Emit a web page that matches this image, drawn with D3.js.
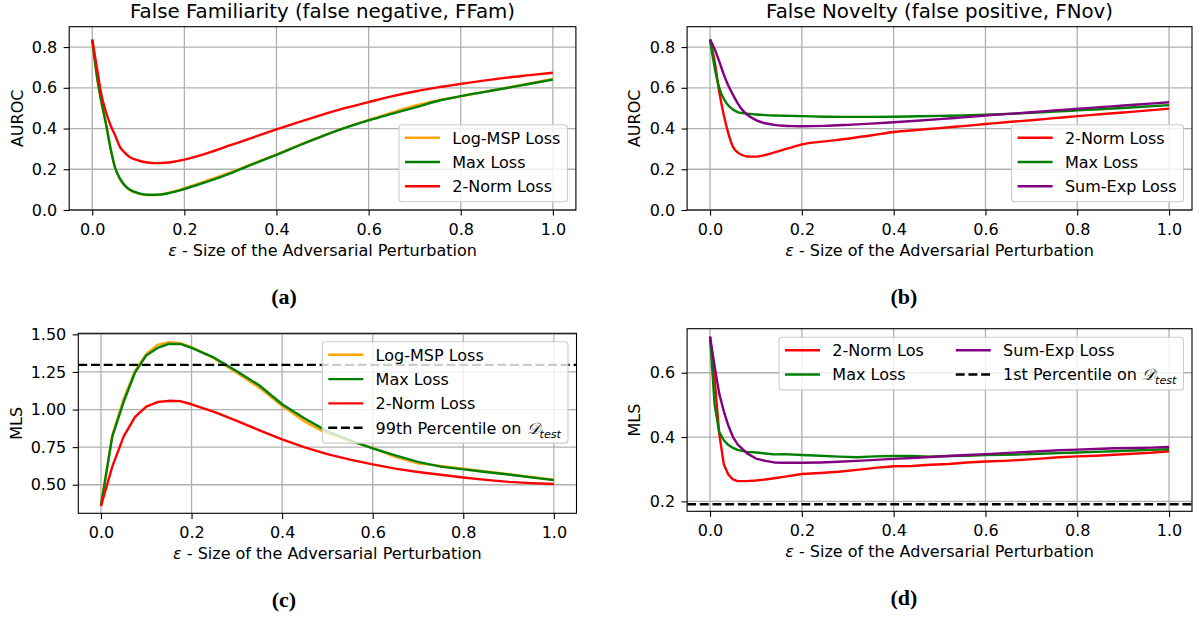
<!DOCTYPE html>
<html>
<head>
<meta charset="utf-8">
<script src="https://cdn.jsdelivr.net/npm/d3@7"></script>
<style>
body { margin: 0; background: #fff; }
svg { display: block; font-family: "DejaVu Sans", sans-serif; }
</style>
</head>
<body>
<div id="chart"></div>
<script>
// epsilon grids
const epsAB = [0, 0.01, 0.02, 0.03, 0.04, 0.05, 0.06, 0.07, 0.08, 0.1, 0.12, 0.14, 0.16, 0.18, 0.2, 0.25, 0.3, 0.35, 0.4, 0.45, 0.5, 0.55, 0.6, 0.65, 0.7, 0.75, 0.8, 0.85, 0.9, 0.95, 1.0];
const epsC = [0, 0.025, 0.05, 0.075, 0.1, 0.125, 0.15, 0.175, 0.2, 0.25, 0.3, 0.35, 0.4, 0.45, 0.5, 0.55, 0.6, 0.65, 0.7, 0.75, 0.8, 0.85, 0.9, 0.95, 1.0];
const epsD = [0, 0.01, 0.02, 0.03, 0.04, 0.05, 0.06, 0.08, 0.1, 0.12, 0.14, 0.16, 0.2, 0.24, 0.28, 0.32, 0.36, 0.4, 0.44, 0.48, 0.52, 0.56, 0.6, 0.64, 0.68, 0.72, 0.76, 0.8, 0.84, 0.88, 0.92, 0.96, 1.0];

// (a) False Familiarity, AUROC
const aLogMsp = [0.837, 0.66, 0.53, 0.42, 0.30, 0.205, 0.152, 0.12, 0.10, 0.081, 0.073, 0.074, 0.081, 0.093, 0.107, 0.145, 0.185, 0.229, 0.273, 0.320, 0.364, 0.405, 0.442, 0.478, 0.512, 0.538, 0.558, 0.580, 0.600, 0.621, 0.643];
const aMax    = [0.837, 0.66, 0.53, 0.42, 0.30, 0.205, 0.155, 0.122, 0.102, 0.083, 0.075, 0.075, 0.080, 0.090, 0.103, 0.139, 0.180, 0.226, 0.271, 0.318, 0.363, 0.404, 0.440, 0.472, 0.503, 0.535, 0.559, 0.579, 0.599, 0.620, 0.640];
const aNorm   = [0.837, 0.70, 0.565, 0.48, 0.415, 0.365, 0.31, 0.283, 0.262, 0.243, 0.233, 0.230, 0.232, 0.238, 0.247, 0.279, 0.318, 0.357, 0.396, 0.433, 0.468, 0.501, 0.530, 0.558, 0.582, 0.602, 0.619, 0.635, 0.650, 0.662, 0.674];

// (b) False Novelty, AUROC
const bNorm   = [0.837, 0.73, 0.58, 0.465, 0.375, 0.31, 0.283, 0.270, 0.263, 0.262, 0.270, 0.283, 0.296, 0.309, 0.322, 0.337, 0.350, 0.366, 0.383, 0.393, 0.402, 0.412, 0.422, 0.432, 0.441, 0.451, 0.461, 0.470, 0.479, 0.488, 0.498];
const bMax    = [0.837, 0.70, 0.60, 0.545, 0.513, 0.493, 0.481, 0.476, 0.473, 0.469, 0.466, 0.464, 0.463, 0.462, 0.461, 0.458, 0.457, 0.457, 0.458, 0.460, 0.462, 0.464, 0.468, 0.472, 0.477, 0.483, 0.489, 0.495, 0.501, 0.508, 0.515];
const bSumExp = [0.837, 0.79, 0.73, 0.665, 0.61, 0.565, 0.525, 0.492, 0.470, 0.441, 0.426, 0.418, 0.414, 0.412, 0.411, 0.413, 0.418, 0.424, 0.431, 0.438, 0.446, 0.455, 0.464, 0.472, 0.480, 0.489, 0.497, 0.505, 0.513, 0.521, 0.529];

// (c) MLS under false-familiarity attack
const cLogMsp = [0.36, 0.83, 1.07, 1.255, 1.37, 1.43, 1.448, 1.442, 1.415, 1.34, 1.245, 1.145, 1.025, 0.92, 0.84, 0.79, 0.745, 0.685, 0.642, 0.625, 0.607, 0.588, 0.57, 0.551, 0.533];
const cMax    = [0.36, 0.82, 1.05, 1.245, 1.36, 1.41, 1.436, 1.436, 1.41, 1.345, 1.255, 1.16, 1.035, 0.94, 0.855, 0.795, 0.742, 0.695, 0.652, 0.620, 0.602, 0.585, 0.568, 0.549, 0.531];
const cNorm   = [0.358, 0.62, 0.82, 0.95, 1.02, 1.05, 1.058, 1.056, 1.035, 0.985, 0.925, 0.862, 0.801, 0.748, 0.703, 0.667, 0.635, 0.607, 0.585, 0.566, 0.548, 0.532, 0.519, 0.511, 0.505];
const cPercentile = 1.297;

// (d) MLS under false-novelty attack
const dNorm   = [0.712, 0.58, 0.41, 0.315, 0.283, 0.268, 0.263, 0.263, 0.265, 0.268, 0.272, 0.276, 0.285, 0.288, 0.292, 0.298, 0.304, 0.309, 0.310, 0.314, 0.316, 0.321, 0.324, 0.326, 0.329, 0.333, 0.337, 0.340, 0.342, 0.345, 0.348, 0.351, 0.356];
const dMax    = [0.712, 0.50, 0.415, 0.39, 0.375, 0.366, 0.36, 0.354, 0.352, 0.349, 0.346, 0.347, 0.344, 0.342, 0.339, 0.337, 0.340, 0.341, 0.341, 0.339, 0.341, 0.342, 0.344, 0.345, 0.346, 0.348, 0.350, 0.352, 0.354, 0.356, 0.358, 0.360, 0.362];
const dSumExp = [0.712, 0.62, 0.535, 0.48, 0.435, 0.40, 0.377, 0.350, 0.333, 0.326, 0.321, 0.320, 0.320, 0.321, 0.323, 0.326, 0.329, 0.332, 0.335, 0.338, 0.341, 0.344, 0.347, 0.350, 0.353, 0.356, 0.359, 0.361, 0.363, 0.365, 0.366, 0.367, 0.369];
const dPercentile = 0.191;

// ticks
const xTicks = [0, 0.2, 0.4, 0.6, 0.8, 1.0];
const abTicksY = [0, 0.2, 0.4, 0.6, 0.8];
const cTicksY = [0.5, 0.75, 1.0, 1.25, 1.5];
const dTicksY = [0.2, 0.4, 0.6];

const C = { orange: "#ffa500", green: "#008000", red: "#ff0000", purple: "#800080" };
const FS = 16, LW = 2.4;

const svg = d3.select("#chart").append("svg")
    .attr("width", 1202)
    .attr("height", 619);

const panels = [
    { id: "a", left: 69.2, right: 575.9, top: 26.7, bottom: 210, yDomain: [0, 0.9], yTicks: abTicksY, fmt: ".1f",
      title: "False Familiarity (false negative, FFam)", ylabel: "AUROC", ylabelX: 23, caption: "(a)", capX: 284,
      xs: epsAB, curve: d3.curveMonotoneX, legend: { corner: "lower", cols: 1 },
      series: [{ label: "Log-MSP Loss", values: aLogMsp, color: C.orange },
               { label: "Max Loss", values: aMax, color: C.green },
               { label: "2-Norm Loss", values: aNorm, color: C.red }] },
    { id: "b", left: 687.1, right: 1192, top: 26.7, bottom: 210, yDomain: [0, 0.9], yTicks: abTicksY, fmt: ".1f",
      title: "False Novelty (false positive, FNov)", ylabel: "AUROC", ylabelX: 640, caption: "(b)", capX: 904,
      xs: epsAB, curve: d3.curveMonotoneX, legend: { corner: "lower", cols: 1 },
      series: [{ label: "2-Norm Loss", values: bNorm, color: C.red },
               { label: "Max Loss", values: bMax, color: C.green },
               { label: "Sum-Exp Loss", values: bSumExp, color: C.purple }] },
    { id: "c", left: 78.3, right: 576.5, top: 333.3, bottom: 513.3, yDomain: [0.31, 1.507], yTicks: cTicksY, fmt: ".2f",
      ylabel: "MLS", ylabelX: 22, caption: "(c)", capX: 284,
      xs: epsC, curve: d3.curveLinear, legend: { corner: "upper", cols: 1 },
      series: [{ label: "Log-MSP Loss", values: cLogMsp, color: C.orange },
               { label: "Max Loss", values: cMax, color: C.green },
               { label: "2-Norm Loss", values: cNorm, color: C.red }],
      threshold: { value: cPercentile, label: "99th Percentile on " } },
    { id: "d", left: 687.1, right: 1192, top: 328.7, bottom: 511.3, yDomain: [0.169, 0.737], yTicks: dTicksY, fmt: ".1f",
      ylabel: "MLS", ylabelX: 640, caption: "(d)", capX: 904,
      xs: epsD, curve: d3.curveLinear, legend: { corner: "upper", cols: 2 },
      series: [{ label: "2-Norm Los", values: dNorm, color: C.red },
               { label: "Max Loss", values: dMax, color: C.green },
               { label: "Sum-Exp Loss", values: dSumExp, color: C.purple }],
      threshold: { value: dPercentile, label: "1st Percentile on " } }
];

function addMathLabel(text, label) {
    text.append("tspan").text(label);
    text.append("tspan").attr("font-style", "italic").text("\u{1D49F}");
    text.append("tspan").attr("font-style", "italic").attr("font-size", FS * 0.7)
        .attr("dy", 4).text("test");
}

function drawPanel(p) {
    const x = d3.scaleLinear().domain([-0.05, 1.05]).range([p.left, p.right]);
    const y = d3.scaleLinear().domain(p.yDomain).range([p.bottom, p.top]);
    const g = svg.append("g");

    svg.append("clipPath").attr("id", "clip-" + p.id)
        .append("rect")
        .attr("x", p.left).attr("y", p.top)
        .attr("width", p.right - p.left).attr("height", p.bottom - p.top);

    // grid
    g.selectAll(".gx").data(xTicks).join("line")
        .attr("x1", d => x(d)).attr("x2", d => x(d))
        .attr("y1", p.top).attr("y2", p.bottom)
        .attr("stroke", "#b0b0b0").attr("stroke-width", 1.3);
    g.selectAll(".gy").data(p.yTicks).join("line")
        .attr("x1", p.left).attr("x2", p.right)
        .attr("y1", d => y(d)).attr("y2", d => y(d))
        .attr("stroke", "#b0b0b0").attr("stroke-width", 1.3);

    const plot = g.append("g").attr("clip-path", `url(#clip-${p.id})`);
    const line = d3.line().x(d => x(d[0])).y(d => y(d[1])).curve(p.curve);

    p.series.forEach(s => {
        plot.append("path")
            .datum(s.values.map((v, i) => [p.xs[i], v]))
            .attr("d", line)
            .attr("fill", "none")
            .attr("stroke", s.color)
            .attr("stroke-width", LW)
            .attr("stroke-linejoin", "round");
    });

    if (p.threshold) {
        plot.append("line")
            .attr("x1", p.left).attr("x2", p.right)
            .attr("y1", y(p.threshold.value)).attr("y2", y(p.threshold.value))
            .attr("stroke", "#000").attr("stroke-width", LW)
            .attr("stroke-dasharray", "8.9,3.8");
    }

    g.append("rect")
        .attr("x", p.left).attr("y", p.top)
        .attr("width", p.right - p.left).attr("height", p.bottom - p.top)
        .attr("fill", "none").attr("stroke", "#000").attr("stroke-width", 1.1);

    const xAxis = d3.axisBottom(x).tickValues(xTicks).tickFormat(d3.format(".1f"))
        .tickSize(5.6).tickPadding(8).tickSizeOuter(0);
    const yAxis = d3.axisLeft(y).tickValues(p.yTicks).tickFormat(d3.format(p.fmt))
        .tickSize(5.6).tickPadding(6.4).tickSizeOuter(0);

    [[xAxis, `translate(0,${p.bottom})`], [yAxis, `translate(${p.left},0)`]].forEach(([ax, tr]) => {
        const a = g.append("g").attr("transform", tr).call(ax);
        a.select(".domain").remove();
        a.selectAll("line").attr("stroke", "#000").attr("stroke-width", 1.1);
        a.selectAll("text").attr("fill", "#000");
        a.attr("font-family", "DejaVu Sans").attr("font-size", FS);
    });

    const cx = (p.left + p.right) / 2;
    const xl = g.append("text")
        .attr("x", cx).attr("y", p.bottom + 46)
        .attr("text-anchor", "middle").attr("font-size", FS);
    xl.append("tspan").attr("font-style", "italic").text("ε");
    xl.append("tspan").text(" - Size of the Adversarial Perturbation");

    g.append("text")
        .attr("transform", `translate(${p.ylabelX},${(p.top + p.bottom) / 2}) rotate(-90)`)
        .attr("text-anchor", "middle").attr("font-size", FS)
        .text(p.ylabel);

    if (p.title) {
        g.append("text")
            .attr("x", cx).attr("y", p.top - 9.2)
            .attr("text-anchor", "middle").attr("font-size", 19.8)
            .text(p.title);
    }

    svg.append("text")
        .attr("x", p.capX).attr("y", p.bottom + 94)
        .attr("text-anchor", "middle")
        .attr("font-family", "Liberation Serif").attr("font-weight", "bold").attr("font-size", 22)
        .text(p.caption);

    drawLegend(p);
}

function drawLegend(p) {
    const items = p.series.map(s => ({ label: s.label, color: s.color, dash: null }));
    if (p.threshold) items.push({ label: p.threshold.label, color: "#000", dash: "8.9,3.8", math: true });

    const cols = p.legend.cols;
    const rows = Math.ceil(items.length / cols);
    const rowH = 24.3, lineLen = 35, textGap = 12.3, padL = 6, padR = 7, padT = 13, padB = 15.4, colGap = 32;

    const g = svg.append("g");
    const bg = g.append("rect");

    // texts first, to measure
    items.forEach(it => {
        const t = g.append("text").attr("font-size", FS);
        if (it.math) addMathLabel(t, it.label); else t.text(it.label);
        it.node = t;
        it.width = t.node().getComputedTextLength();
    });

    const colWidths = d3.range(cols).map(c =>
        d3.max(items.filter((d, i) => Math.floor(i / rows) === c), d => d.width));
    const colX = [];
    let acc = padL;
    colWidths.forEach((w, c) => { colX.push(acc); acc += lineLen + textGap + w + (c < cols - 1 ? colGap : 0); });
    const boxW = acc + padR;
    const boxH = padT + (rows - 1) * rowH + padB;
    const bx = p.right - 8.5 - boxW;
    const by = p.legend.corner === "lower" ? p.bottom - 8.3 - boxH : p.top + 8.5;

    bg.attr("x", bx).attr("y", by).attr("width", boxW).attr("height", boxH)
        .attr("rx", 3)
        .attr("fill", "#fff").attr("fill-opacity", 0.8)
        .attr("stroke", "#cccccc").attr("stroke-width", 1.1);

    items.forEach((it, i) => {
        const c = Math.floor(i / rows), r = i % rows;
        const lx = bx + colX[c];
        const ly = by + padT + r * rowH;
        g.append("line")
            .attr("x1", lx).attr("x2", lx + lineLen)
            .attr("y1", ly).attr("y2", ly)
            .attr("stroke", it.color).attr("stroke-width", LW)
            .attr("stroke-dasharray", it.dash);
        it.node.attr("x", lx + lineLen + textGap).attr("y", ly + 5.8);
    });
}

panels.forEach(drawPanel);
</script>
</body>
</html>
